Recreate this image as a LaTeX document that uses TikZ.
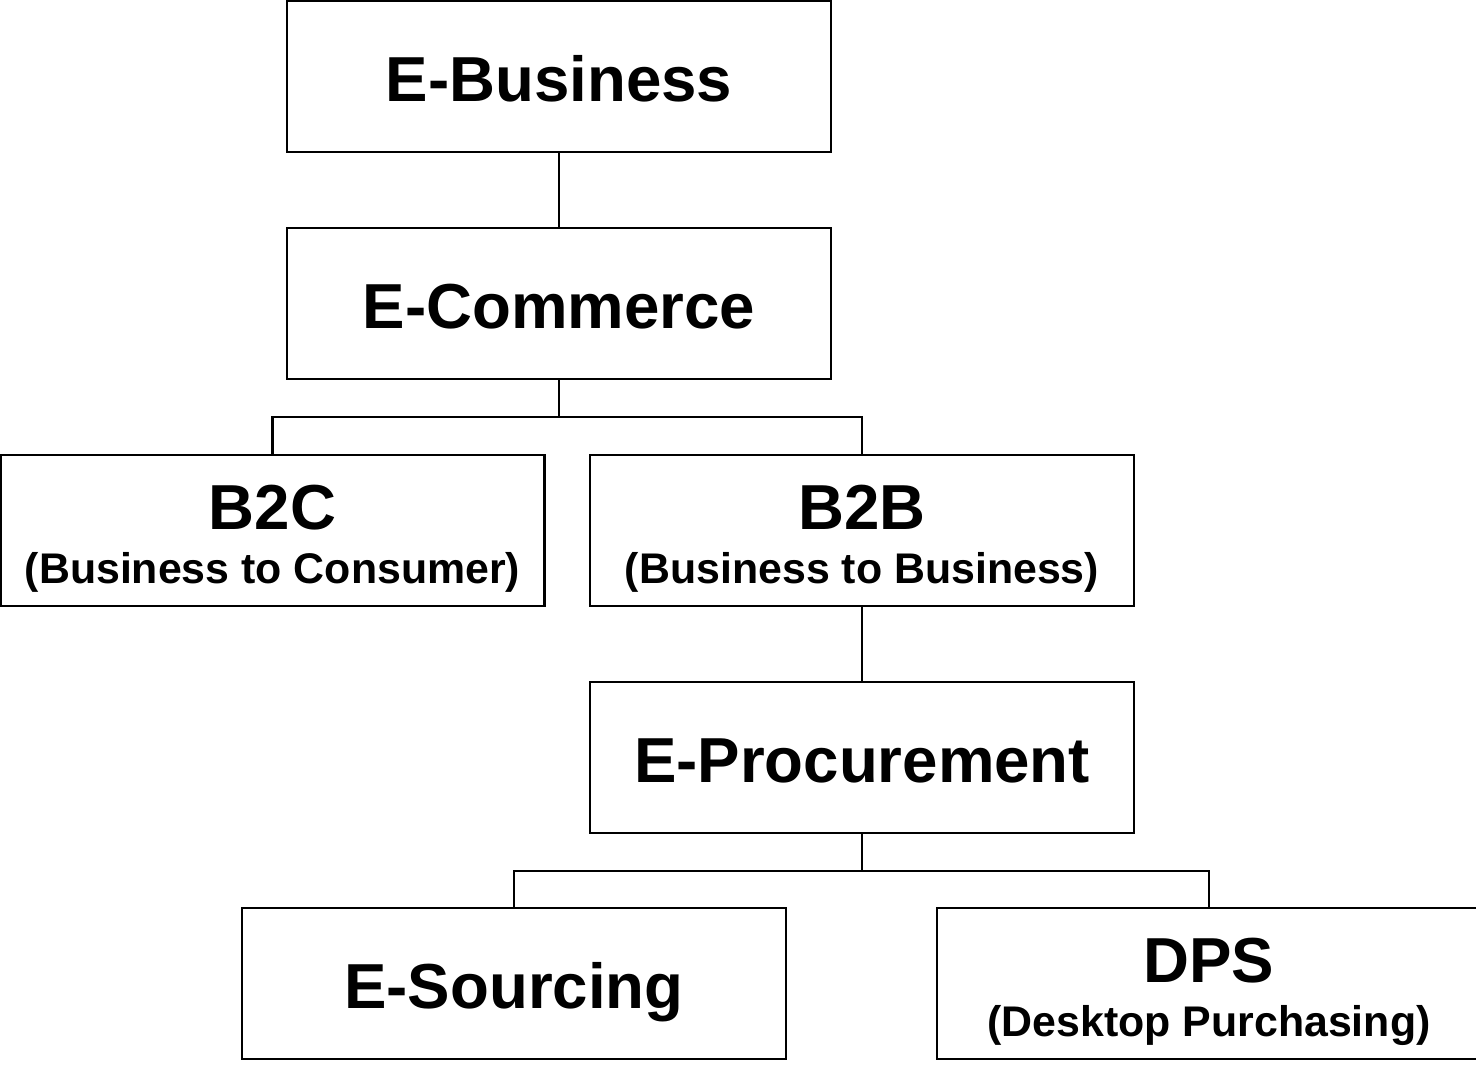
\documentclass[tikz,border=0pt]{standalone}
\usepackage{fontspec}
\setmainfont{Liberation Sans}
\usepackage{tikz}
\usetikzlibrary{positioning}
\tikzset{
  basic/.style  = {draw, line width=1.6pt, rectangle, inner sep=0pt,
                   minimum width=10.88cm, minimum height=3.02cm, align=center,
                   font=\bfseries\fontsize{36.2}{40}\selectfont},
  single/.style = {basic, text height=28.9pt, text depth=0pt},
  double/.style = {basic},
  link/.style   = {draw, line width=1.2pt}
}
\newcommand{\subline}[1]{\rule{0pt}{35pt}\\[-9.4pt]{\fontsize{24.4}{28}\selectfont #1}}

\begin{document}
\begin{tikzpicture}[x=0.02cm, y=-0.02cm]
\useasboundingbox (0,0) rectangle (1476,1065);

% upper levels
\node[single] (eb) at (559,76.5) {E-Business};
\node[single] (ec) at (559,303.5) {E-Commerce};

% B2C and B2B
\node[double] (b2c) at (272.5,530.5) {B2C\subline{(Business to Consumer)}};
\node[double] (b2b) at (862,530.5) {B2B\subline{(Business to Business)}};

\node[single] (ep) at (862,757.5) {E-Procurement};

% lowest level
\node[single] (es) at (514,983.5) {E-Sourcing};
\node[double] (dps) at (1209,983.5) {DPS\subline{(Desktop Purchasing)}};

% connectors
\coordinate (j1) at (559,417);
\coordinate (j2) at (862,871);
\draw[link] (eb.south) -- (ec.north);
\draw[link] (ec.south) -- (j1) -| (b2c.north);
\draw[link] (j1) -| (b2b.north);
\draw[link] (b2b.south) -- (ep.north);
\draw[link] (ep.south) -- (j2) -| (es.north);
\draw[link] (j2) -| (dps.north);
\end{tikzpicture}
\end{document}
